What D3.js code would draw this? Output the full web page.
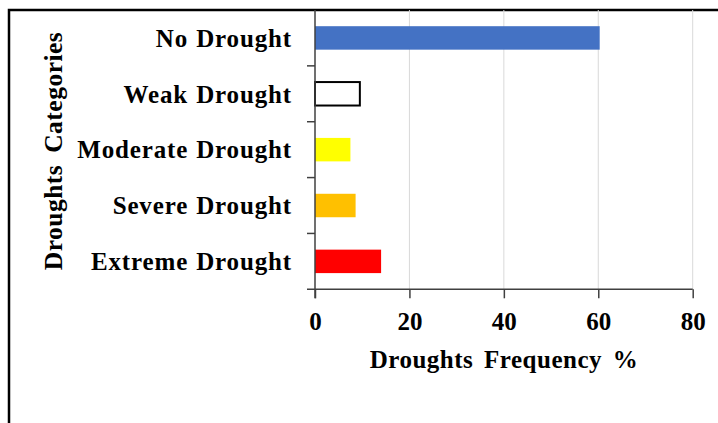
<!DOCTYPE html>
<html>
<head>
<meta charset="utf-8">
<script src="https://cdn.jsdelivr.net/npm/d3@7"></script>
<style>
  html, body { margin: 0; padding: 0; background: #fff; }
  svg { display: block; }
  text { font-family: "Liberation Serif", "Times New Roman", serif; font-weight: bold; fill: #000; }
</style>
</head>
<body>
<svg id="chart" width="718" height="423"></svg>
<script>
// Drought categories (top to bottom) and their frequency in percent
const categories = ["No Drought", "Weak Drought", "Moderate Drought", "Severe Drought", "Extreme Drought"];
const frequency = [60.3, 9.5, 7.5, 8.6, 14.0];
const barColors = ["#4472C4", "#FFFFFF", "#FFFF00", "#FFC000", "#FF0000"];
const xTicks = [0, 20, 40, 60, 80];
const xTitle = "Droughts Frequency %";
const yTitle = "Droughts Categories";

const svg = d3.select("#chart");
const plot = { left: 315, right: 692.7, top: 10, bottom: 289.3 };

// outer frame
svg.append("rect")
  .attr("x", 9).attr("y", 10)
  .attr("width", 760).attr("height", 460)
  .attr("fill", "none").attr("stroke", "#000").attr("stroke-width", 2.5);

const x = d3.scaleLinear().domain([0, 80]).range([plot.left, plot.right]);
const y = d3.scaleBand().domain(categories).range([plot.top, plot.bottom]).paddingInner(0.58).paddingOuter(0.29);
const yTicks = d3.scaleBand().domain(categories).range([plot.top, plot.bottom]);

// vertical gridlines
svg.append("g").selectAll("line")
  .data(xTicks.filter(d => d > 0))
  .join("line")
  .attr("x1", d => x(d)).attr("x2", d => x(d))
  .attr("y1", plot.top).attr("y2", plot.bottom)
  .attr("stroke", "#d9d9d9").attr("stroke-width", 1);

// bars
svg.append("g").selectAll("rect")
  .data(categories)
  .join("rect")
  .attr("x", x(0))
  .attr("y", d => y(d))
  .attr("width", (d, i) => x(frequency[i]) - x(0))
  .attr("height", y.bandwidth())
  .attr("fill", (d, i) => barColors[i])
  .attr("stroke", (d, i) => i === 1 ? "#000" : "none")
  .attr("stroke-width", 2);

// x axis
const xAxis = svg.append("g")
  .attr("transform", `translate(0,${plot.bottom})`)
  .call(d3.axisBottom(x).tickValues(xTicks).tickSize(9).tickPadding(14).tickSizeOuter(0));
xAxis.select(".domain").attr("stroke", "#404040").attr("stroke-width", 1.5).attr("d", `M${plot.left - 8},0H${plot.right}`);
xAxis.selectAll(".tick line").attr("stroke", "#404040").attr("stroke-width", 1.5);
xAxis.selectAll(".tick text")
  .style("font-family", '"Liberation Serif", serif').style("font-weight", "bold")
  .style("font-size", "25px").attr("fill", "#000").attr("dy", "0.71em");

// y axis: line with ticks on category boundaries
const yAxis = svg.append("g");
yAxis.append("line")
  .attr("x1", plot.left).attr("x2", plot.left)
  .attr("y1", plot.top).attr("y2", plot.bottom + 9)
  .attr("stroke", "#404040").attr("stroke-width", 1.5);
yAxis.selectAll("line.tk")
  .data(categories.slice(1))
  .join("line")
  .attr("class", "tk")
  .attr("x1", plot.left - 8).attr("x2", plot.left)
  .attr("y1", d => yTicks(d)).attr("y2", d => yTicks(d))
  .attr("stroke", "#404040").attr("stroke-width", 1.5);

// category labels
svg.append("g").selectAll("text")
  .data(categories)
  .join("text")
  .attr("x", 292)
  .attr("y", d => y(d) + y.bandwidth() / 2)
  .attr("dy", "0.35em")
  .attr("text-anchor", "end")
  .style("font-size", "25px")
  .style("letter-spacing", "0.85px")
  .style("word-spacing", "1px")
  .text(d => d);

// axis titles
svg.append("text")
  .attr("x", 504).attr("y", 368)
  .attr("text-anchor", "middle")
  .style("font-size", "25px")
  .style("letter-spacing", "0.5px")
  .style("word-spacing", "4px")
  .text(xTitle);

svg.append("text")
  .attr("transform", "translate(62,151) rotate(-90)")
  .attr("text-anchor", "middle")
  .style("font-size", "25.5px")
  .style("letter-spacing", "0.5px")
  .style("word-spacing", "5px")
  .text(yTitle);
</script>
</body>
</html>
